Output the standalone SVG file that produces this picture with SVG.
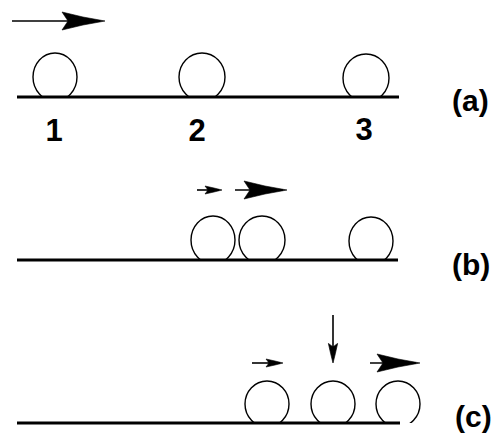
<svg xmlns="http://www.w3.org/2000/svg" xmlns:xlink="http://www.w3.org/1999/xlink" width="499" height="433" viewBox="0 0 499 433">
<style>
.ball{fill:none;stroke:#000;stroke-width:1.4}
.ground{stroke:#000;stroke-width:3;fill:none}
.shaft{stroke:#000;stroke-width:1.6;fill:none}
.head{fill:#000;stroke:#000;stroke-width:0.6;stroke-linejoin:miter}
.num{font-family:"Liberation Sans",Arial,sans-serif;font-weight:bold;font-size:31px;fill:#000;text-anchor:middle}
.lbl{font-family:"Liberation Sans",Arial,sans-serif;font-weight:bold;font-size:30px;fill:#000}
</style>
<defs>
<path id="bighead" d="M0,0 L-22,-4 L-43,-9 L-37,0 L-43,9 L-22,4 Z"/>
<path id="smallhead" d="M0,0 L-8,-2 L-17,-4 L-14,0 L-17,4 L-8,2 Z"/>
<clipPath id="clipA"><rect x="0" y="0" width="499" height="97"/></clipPath>
<clipPath id="clipB"><rect x="0" y="150" width="499" height="110"/></clipPath>
<clipPath id="clipC"><rect x="0" y="300" width="499" height="123"/></clipPath>
</defs>
<rect width="499" height="433" fill="#fff"/>

<g id="grounds">
<line class="ground" x1="17" y1="97" x2="399" y2="97"/>
<line class="ground" x1="17" y1="260" x2="398" y2="260"/>
<line class="ground" x1="17" y1="423" x2="400" y2="423"/>
</g>

<g id="a-ball1" clip-path="url(#clipA)"><ellipse class="ball" cx="55" cy="77" rx="22" ry="24"/></g>
<g id="a-ball2" clip-path="url(#clipA)"><ellipse class="ball" cx="202" cy="77" rx="23" ry="24"/></g>
<g id="a-ball3" clip-path="url(#clipA)"><ellipse class="ball" cx="366" cy="78" rx="23" ry="24"/></g>

<g id="b-ball1" clip-path="url(#clipB)"><ellipse class="ball" cx="213" cy="240" rx="22" ry="24"/></g>
<g id="b-ball2" clip-path="url(#clipB)"><ellipse class="ball" cx="262" cy="240" rx="23" ry="24"/></g>
<g id="b-ball3" clip-path="url(#clipB)"><ellipse class="ball" cx="371" cy="241" rx="22" ry="24"/></g>

<g id="c-ball1" clip-path="url(#clipC)"><ellipse class="ball" cx="267" cy="404" rx="22" ry="23"/></g>
<g id="c-ball2" clip-path="url(#clipC)"><ellipse class="ball" cx="333" cy="404" rx="22" ry="23"/></g>
<g id="c-ball3" clip-path="url(#clipC)"><ellipse class="ball" cx="398" cy="404" rx="22" ry="23"/></g>

<g id="connectors">
<line class="shaft" x1="12" y1="21" x2="100" y2="21"/>
<use href="#bighead" xlink:href="#bighead" class="head" transform="translate(105,21)"/>

<line class="shaft" x1="197" y1="190" x2="219" y2="190"/>
<use href="#smallhead" xlink:href="#smallhead" class="head" transform="translate(222,190)"/>
<line class="shaft" x1="235" y1="190" x2="283" y2="190"/>
<use href="#bighead" xlink:href="#bighead" class="head" transform="translate(287,190)"/>

<line class="shaft" x1="252" y1="363" x2="280" y2="363"/>
<use href="#smallhead" xlink:href="#smallhead" class="head" transform="translate(283,363)"/>
<line class="shaft" x1="333" y1="315" x2="333" y2="359"/>
<use href="#smallhead" xlink:href="#smallhead" class="head" transform="translate(333,363) rotate(90) scale(1.15)"/>
<line class="shaft" x1="370" y1="363" x2="416" y2="363"/>
<use href="#bighead" xlink:href="#bighead" class="head" transform="translate(420,363)"/>
</g>

<g id="labels">
<text class="num" x="54" y="141">1</text>
<text class="num" x="197" y="141">2</text>
<text class="num" x="364" y="140">3</text>
<text class="lbl" x="452" y="111">(a)</text>
<text class="lbl" x="452" y="275">(b)</text>
<text class="lbl" x="455" y="427">(c)</text>
</g>
</svg>
